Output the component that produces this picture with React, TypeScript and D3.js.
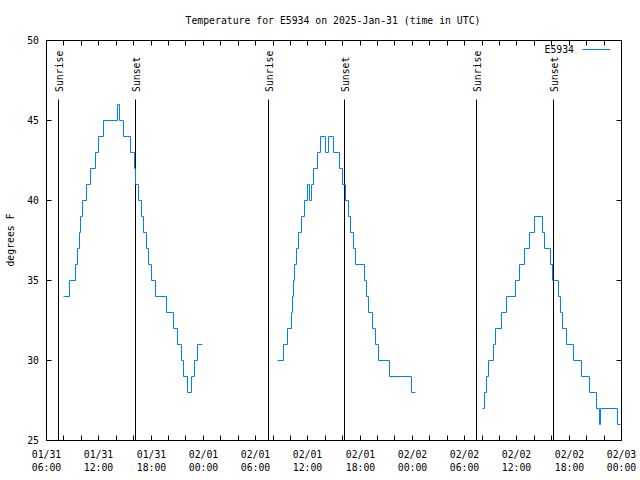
import React from "react";
import * as d3 from "d3";

// ---- data (UTC times, °F) ----
const seg1Time = [
  "2025-01-31T07:59", "2025-01-31T08:38", "2025-01-31T09:20", "2025-01-31T09:33", "2025-01-31T09:45",
  "2025-01-31T09:56", "2025-01-31T10:10", "2025-01-31T10:38", "2025-01-31T11:05", "2025-01-31T11:37",
  "2025-01-31T12:00", "2025-01-31T12:30", "2025-01-31T14:11", "2025-01-31T14:25", "2025-01-31T14:53",
  "2025-01-31T15:39", "2025-01-31T16:08", "2025-01-31T16:15", "2025-01-31T16:34", "2025-01-31T16:52",
  "2025-01-31T17:10", "2025-01-31T17:26", "2025-01-31T17:45", "2025-01-31T18:03", "2025-01-31T18:28",
  "2025-01-31T19:44", "2025-01-31T20:37", "2025-01-31T21:04", "2025-01-31T21:27", "2025-01-31T21:46",
  "2025-01-31T22:11", "2025-01-31T22:39", "2025-01-31T22:57", "2025-01-31T23:20", "2025-01-31T23:52",
];
const seg1Temp = [
  34, 35, 36, 37, 38, 39, 40, 41, 42, 43, 44, 45, 46, 45, 44, 43, 42, 41, 40, 39,
  38, 37, 36, 35, 34, 33, 32, 31, 30, 29, 28, 29, 30, 31, 31,
];

const seg2Time = [
  "2025-02-01T08:31", "2025-02-01T09:12", "2025-02-01T09:42", "2025-02-01T10:10", "2025-02-01T10:17",
  "2025-02-01T10:23", "2025-02-01T10:30", "2025-02-01T10:42", "2025-02-01T10:58", "2025-02-01T11:16",
  "2025-02-01T11:35", "2025-02-01T11:55", "2025-02-01T12:11", "2025-02-01T12:25", "2025-02-01T12:37",
  "2025-02-01T13:04", "2025-02-01T13:25", "2025-02-01T13:59", "2025-02-01T14:24", "2025-02-01T14:54",
  "2025-02-01T15:40", "2025-02-01T15:56", "2025-02-01T16:22", "2025-02-01T16:40", "2025-02-01T16:56",
  "2025-02-01T17:12", "2025-02-01T17:28", "2025-02-01T18:28", "2025-02-01T18:41", "2025-02-01T18:55",
  "2025-02-01T19:28", "2025-02-01T19:44", "2025-02-01T20:09", "2025-02-01T21:25", "2025-02-01T23:56",
  "2025-02-02T00:19",
];
const seg2Temp = [
  30, 31, 32, 33, 34, 35, 36, 37, 38, 39, 40, 41, 40, 41, 42, 43, 44, 43, 44, 43,
  42, 41, 40, 39, 38, 37, 36, 35, 34, 33, 32, 31, 30, 29, 28, 28,
];

const seg3Time = [
  "2025-02-02T08:05", "2025-02-02T08:17", "2025-02-02T08:30", "2025-02-02T08:44", "2025-02-02T09:16",
  "2025-02-02T09:32", "2025-02-02T10:11", "2025-02-02T10:46", "2025-02-02T11:52", "2025-02-02T12:15",
  "2025-02-02T12:54", "2025-02-02T13:26", "2025-02-02T13:59", "2025-02-02T14:56", "2025-02-02T15:10",
  "2025-02-02T15:53", "2025-02-02T16:07", "2025-02-02T16:49", "2025-02-02T17:02", "2025-02-02T17:14",
  "2025-02-02T17:41", "2025-02-02T18:27", "2025-02-02T19:27", "2025-02-02T20:22", "2025-02-02T21:08",
  "2025-02-02T21:26", "2025-02-02T21:38", "2025-02-02T23:32", "2025-02-02T23:53",
];
const seg3Temp = [
  27, 28, 29, 30, 31, 32, 33, 34, 35, 36, 37, 38, 39, 38, 37, 36, 35, 34, 33, 32,
  31, 30, 29, 28, 27, 26, 27, 26, 26,
];

const sunriseTimes = ["2025-01-31T07:23", "2025-02-01T07:26", "2025-02-02T07:22"];
const sunsetTimes = ["2025-01-31T16:14", "2025-02-01T16:14", "2025-02-02T16:14"];

const yTicks = [25, 30, 35, 40, 45, 50];
const xDomain = ["2025-01-31T06:00", "2025-02-03T00:00"];

const titleText = "Temperature for E5934 on 2025-Jan-31 (time in UTC)";
const yLabel = "degrees F";
const seriesName = "E5934";

const FONT = "'DejaVu Sans Mono', monospace";
const FS = 9.8;
const LINE_COLOR = "#0080ff";

const parse = (s: string) => new Date(s + ":00Z");

export default function App() {
  const x = d3
    .scaleUtc()
    .domain(xDomain.map(parse))
    .rangeRound([46, 621]);
  const y = d3.scaleLinear().domain([25, 50]).rangeRound([440, 40]);

  const [d0, d1] = x.domain();
  const major = d3.utcHour.every(6)!.range(d0, new Date(+d1 + 1));
  const minor = d3.utcHour.every(2)!.range(d0, new Date(+d1 + 1));
  const fDate = d3.utcFormat("%m/%d");
  const fTime = d3.utcFormat("%H:%M");

  const segments = [
    [seg1Time, seg1Temp],
    [seg2Time, seg2Temp],
    [seg3Time, seg3Temp],
  ].map(([t, v]) =>
    (t as string[]).map((s, i) => [parse(s), (v as number[])[i]] as [Date, number])
  );

  const line = d3
    .line<[Date, number]>()
    .x((d) => x(d[0]))
    .y((d) => y(d[1]))
    .curve(d3.curveStepAfter);

  const left = 46, right = 621, top = 40, bottom = 440;
  const tick = 5;

  return (
    <svg
      width={640}
      height={480}
      style={{ position: "absolute", left: 0, top: 0, background: "#fff" }}
      fontFamily={FONT}
      fontSize={FS}
    >
      <rect x={0} y={0} width={640} height={480} fill="#fff" />
      <text x={333} y={24} textAnchor="middle" fill="#000">
        {titleText}
      </text>
      <g transform="translate(0.5,0.5)">
        {/* x ticks */}
        {minor.map((d, i) => (
          <g key={"mx" + i}>
            <line x1={x(d)} x2={x(d)} y1={bottom} y2={bottom - tick} stroke="#000" />
            <line x1={x(d)} x2={x(d)} y1={top} y2={top + tick} stroke="#000" />
          </g>
        ))}
        {/* y ticks */}
        {yTicks.map((v) => (
          <g key={"yt" + v}>
            <line x1={left} x2={left + tick} y1={y(v)} y2={y(v)} stroke="#000" />
            <line x1={right} x2={right - tick} y1={y(v)} y2={y(v)} stroke="#000" />
          </g>
        ))}
        {/* sunrise / sunset */}
        {sunriseTimes.map((s, i) => (
          <line key={"sr" + i} x1={x(parse(s))} x2={x(parse(s))} y1={99} y2={bottom} stroke="#000" />
        ))}
        {sunsetTimes.map((s, i) => (
          <line key={"ss" + i} x1={x(parse(s))} x2={x(parse(s))} y1={99} y2={bottom} stroke="#000" />
        ))}
        {/* data */}
        {segments.map((seg, i) => (
          <path key={"seg" + i} d={line(seg) || ""} fill="none" stroke={LINE_COLOR} strokeWidth={1} />
        ))}
        {/* legend line */}
        <line x1={582} x2={610} y1={49} y2={49} stroke={LINE_COLOR} />
        {/* frame */}
        <rect x={left} y={top} width={right - left} height={bottom - top} fill="none" stroke="#000" />
      </g>
      {/* sunrise / sunset labels */}
      {sunriseTimes.map((s, i) => (
        <text
          key={"srl" + i}
          transform={`translate(${x(parse(s)) + 4.5},92) rotate(-90)`}
          fill="#000"
        >
          Sunrise
        </text>
      ))}
      {sunsetTimes.map((s, i) => (
        <text
          key={"ssl" + i}
          transform={`translate(${x(parse(s)) + 4.5},92) rotate(-90)`}
          fill="#000"
        >
          Sunset
        </text>
      ))}
      {/* y tick labels */}
      {yTicks.map((v) => (
        <text key={"yl" + v} x={39} y={y(v) + 4} textAnchor="end" fill="#000">
          {v}
        </text>
      ))}
      {/* x tick labels */}
      {major.map((d, i) => (
        <g key={"xl" + i}>
          <text x={x(d) + 0.5} y={457.5} textAnchor="middle" fill="#000">
            {fDate(d)}
          </text>
          <text x={x(d) + 0.5} y={470.5} textAnchor="middle" fill="#000">
            {fTime(d)}
          </text>
        </g>
      ))}
      {/* y axis label */}
      <text transform="translate(14,240) rotate(-90)" textAnchor="middle" fill="#000">
        {yLabel}
      </text>
      {/* legend text */}
      <text x={574} y={52.5} textAnchor="end" fill="#000">
        {seriesName}
      </text>
    </svg>
  );
}
